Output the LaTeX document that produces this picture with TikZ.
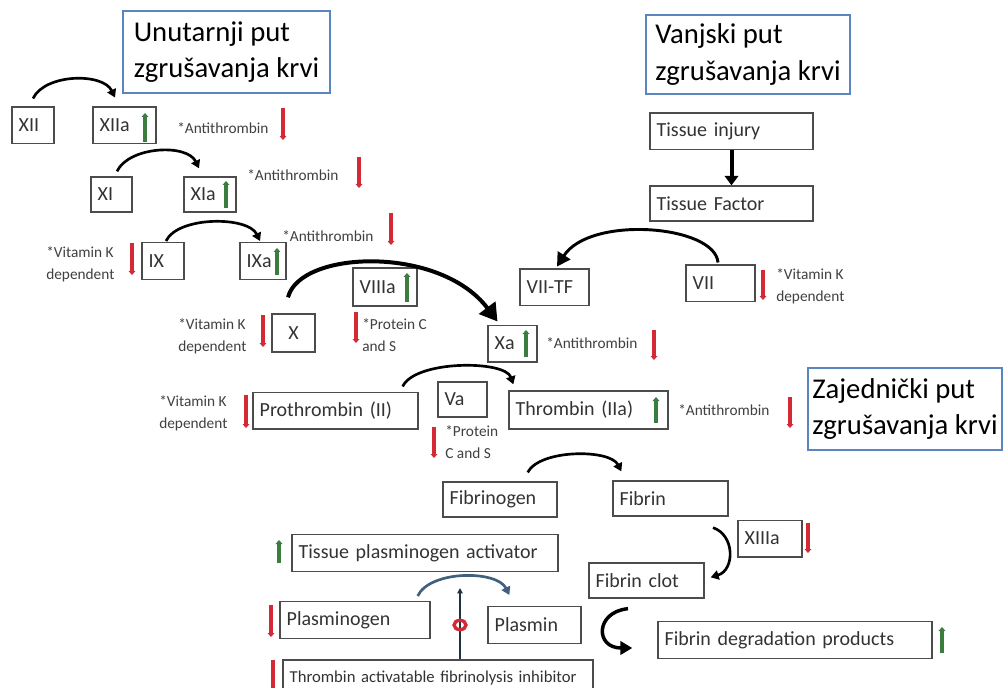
\documentclass[tikz,border=0pt]{standalone}
\usepackage{fontspec}
\setmainfont{Carlito}
\usetikzlibrary{arrows.meta,calc}
\definecolor{upgreen}{HTML}{3B7D3F}
\definecolor{downred}{HTML}{D42A35}
\definecolor{titleblue}{HTML}{5A85BE}
\definecolor{plasblue}{HTML}{41607E}
\definecolor{inhnavy}{HTML}{1E3246}

\begin{document}
\begin{tikzpicture}[x=0.75pt,y=-0.75pt,
	box/.style={draw=black!70, line width=1pt, rectangle, inner xsep=5pt, inner ysep=0pt,
		minimum height=27.5pt, align=left, text=black!80, font=\fontsize{15}{18}\selectfont},
	pathtitle/.style={draw=titleblue, line width=0.8pt, inner sep=0pt, align=left,
		font=\fontsize{21.5}{27.5}\selectfont},
	note/.style={inner sep=0pt, anchor=west, align=left, text=black!75,
		font=\fontsize{11.5}{16.5}\selectfont},
	reaction/.style={line width=2pt, -{Triangle[length=6pt,width=7pt]}},
	uparr/.style={draw=upgreen, line width=2.3pt, -{Triangle[length=3pt,width=5pt]}},
	downarr/.style={draw=downred, line width=2.3pt, -{Triangle[length=3pt,width=5pt]}}
	]
	\fill[white] (0,0) rectangle (1004,688);
	\useasboundingbox (0,0) rectangle (1004,688);

	\node[pathtitle, minimum width=155.25pt, minimum height=61.5pt] (intr) at (226.5,52) {Unutarnji put\\zgrušavanja krvi};
	\node[pathtitle, minimum width=153pt, minimum height=59.25pt] (extr) at (748,54.5) {Vanjski put\\zgrušavanja krvi};
	\node[pathtitle, minimum width=145.5pt, minimum height=61.5pt] (comm) at (905,409) {Zajednički put\\zgrušavanja krvi};

	% intrinsic
	\node[box, text width=21.5pt] (XII) at (33,125.5) {XII};
	\node[box, text width=37.25pt] (XIIa) at (124.5,125.5) {XIIa};
	\node[box, text width=20.75pt, minimum height=26.25pt] (XI) at (111.5,194.5) {XI};
	\node[box, text width=29pt, minimum height=26.25pt] (XIa) at (210,194.5) {XIa};
	\node[box, text width=21.5pt] (IX) at (163,261) {IX};
	\node[box, text width=24.5pt] (IXa) at (263,261) {IXa};
	\node[box, text width=38pt, minimum height=28.5pt] (VIIIa) at (385,287) {VIIIa};
	\node[box, text width=22.25pt, align=center, minimum height=28.5pt] (X) at (293.5,333) {X};
	\node[box, text width=26.75pt] (Xa) at (512.5,343.5) {Xa};

	% extrinsic
	\node[box, text width=112.25pt] (injury) at (731.5,131.5) {Tissue injury};
	\node[box, text width=112.25pt, minimum height=26.25pt] (TF) at (731.5,203.5) {Tissue Factor};
	\node[box, text width=41.75pt] (VIITF) at (554.5,287.5) {VII-TF};
	\node[box, text width=41.75pt] (VII) at (720.5,283.5) {VII};

	% common
	\node[box, text width=113.75pt] (proth) at (335.5,410.5) {Prothrombin (II)};
	\node[box, text width=26.75pt, minimum height=26.25pt] (Va) at (462.5,399.5) {Va};
	\node[box, text width=109.25pt, minimum height=28.5pt] (thromb) at (588.5,410) {Thrombin (IIa)};
	\node[box, text width=75.5pt, minimum height=26.25pt] (fibgen) at (500,499.5) {Fibrinogen};
	\node[box, text width=76.25pt, minimum height=26.25pt] (fibrin) at (670.5,498.5) {Fibrin};
	\node[box, text width=38pt] (XIIIa) at (770,538.5) {XIIIa};
	\node[box, text width=76.25pt, minimum height=26.25pt] (clot) at (646.5,580.5) {Fibrin clot};
	\node[box, text width=189.5pt] (tpa) at (425,553) {Tissue plasminogen activator};
	\node[box, text width=102.5pt] (plasgen) at (355,620) {Plasminogen};
	\node[box, text width=59.75pt] (plasmin) at (534.5,625) {Plasmin};
	\node[box, text width=222.5pt, minimum height=27pt, font=\fontsize{12.5}{15}\selectfont] (tafi) at (438,678) {Thrombin activatable fibrinolysis inhibitor};
	\node[box, text width=195.5pt] (fdp) at (795,640) {Fibrin degradation products};

	\node[note] (anti1) at (177,128) {*Antithrombin};
	\node[note] (anti2) at (247,175) {*Antithrombin};
	\node[note] (anti3) at (282,236) {*Antithrombin};
	\node[note] (anti4) at (546,343) {*Antithrombin};
	\node[note] (anti5) at (678,410) {*Antithrombin};
	\node[note] (vitk1) at (46,264) {*Vitamin K\\dependent};
	\node[note] (vitk2) at (178,336) {*Vitamin K\\dependent};
	\node[note] (vitk3) at (776,286) {*Vitamin K\\dependent};
	\node[note] (vitk4) at (159,413) {*Vitamin K\\dependent};
	\node[note] (prot1) at (362,335) {*Protein C\\and S};
	\node[note] (prot2) at (445,442) {*Protein\\C and S};

	\foreach \x/\ya/\yb in {145/142/113, 226/208/181, 277/275/248, 407/302/273, 526/357/330, 656/423/397, 279/563/540, 942/653/627}
		\draw[uparr] (\x,\ya) -- (\x,\yb);
	\foreach \x/\ya/\yb in {283/108/140, 359/157/188, 391/213/245, 132/243/275, 263/315/347, 356/312/343, 654/330/360, 763/270/300, 246/395/428, 434/427/458, 790/397/428, 808/523/553, 271/605/637, 273/660/692}
		\draw[downarr] (\x,\ya) -- (\x,\yb);

	\draw[reaction] ($(XII.north)+(0,-8)$) .. controls +(12,-25) and +(-12,-25) .. ($(XIIa.north)+(-9.5,-9)$);
	\draw[reaction] ($(XI.north)+(5.5,-5)$) .. controls +(12,-25) and +(-12,-25) .. ($(XIa.north)+(-11,-8)$);
	\draw[reaction] ($(IX.north)+(3,-1)$) .. controls +(12,-25) and +(-12,-25) .. ($(IXa.north)+(-3,-1)$);
	\draw[line width=3pt, -{Triangle[length=13pt,width=15pt]}] ($(X.north)+(-5.5,-16)$) .. controls (300,250) and (440,245) .. ($(Xa.north)+(-15,-3)$);
	\draw[line width=3pt, -{Triangle[length=7pt,width=10pt]}] (injury.south) -- (TF.north);
	\draw[line width=2.2pt, -{Triangle[length=10pt,width=11pt]}] ($(VII.north)+(-2.5,-2)$) .. controls (715,225) and (590,215) .. ($(VIITF.north)+(2.5,-2)$);
	\draw[reaction] ($(proth.north east)+(-16,-5)$) .. controls (415,360) and (505,360) .. ($(thromb.north west)+(5,-6)$);
	\draw[reaction] ($(fibgen.north east)+(-30,-9)$) .. controls (540,449) and (610,449) .. ($(fibrin.north west)+(9,-9)$);
	\draw[reaction] ($(fibrin.south)+(42.5,11)$) .. controls (735,535) and (735,570) .. ($(clot.north east)+(6,15)$);
	\draw[line width=2.6pt, -{Triangle[length=9pt,width=10pt]}] ($(clot.south)+(-18.5,10)$) .. controls (595,612) and (595,648) .. ($(fdp.west)+(-25,8)$);
	\draw[reaction, draw=plasblue] ($(plasgen.north east)+(-13,-5)$) .. controls (430,570) and (497,570) .. ($(plasmin.north west)+(22,-11)$);

	\coordinate (inhtop) at (460,588);
	\draw[draw=inhnavy, line width=1.5pt, -{Triangle[length=4pt,width=4pt]}] (tafi.north -| inhtop) -- (inhtop);
	\draw[downred, line width=2.5pt] (460,625) ellipse [x radius=4.5pt, y radius=3.5pt];
\end{tikzpicture}
\end{document}
